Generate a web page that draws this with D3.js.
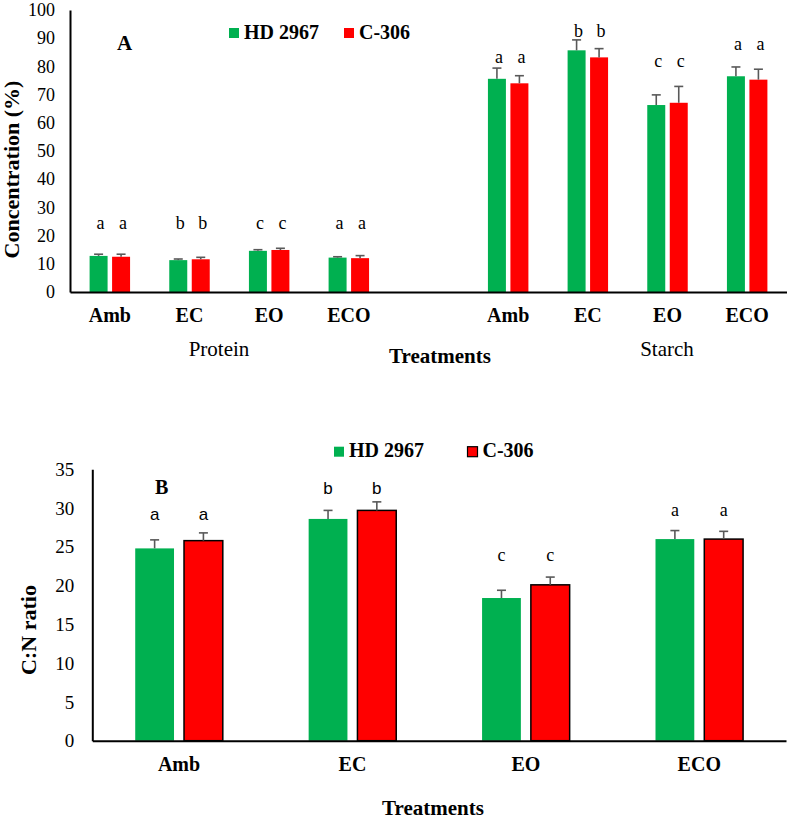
<!DOCTYPE html>
<html><head><meta charset="utf-8">
<script src="https://cdn.jsdelivr.net/npm/d3@7"></script>
</head>
<body style="margin:0">
<svg id="chart" width="787" height="823"></svg>
<script>
// ---------- DATA ----------
const series = ["HD 2967", "C-306"];
const treatments = ["Amb", "EC", "EO", "ECO"];
const components = ["Protein", "Starch"];

// Panel A (Concentration %)
const proteinHD = [12.8, 11.3, 14.6, 12.2];
const proteinC = [12.5, 11.6, 14.9, 12.0];
const proteinHDErr = [0.6, 0.4, 0.4, 0.3];
const proteinCErr = [0.9, 0.7, 0.6, 0.9];
const starchHD = [75.6, 85.7, 66.3, 76.5];
const starchC = [74.0, 83.2, 67.1, 75.3];
const starchHDErr = [3.8, 3.7, 3.6, 3.3];
const starchCErr = [2.7, 3.1, 5.8, 3.7];
const proteinLetters = ["a", "b", "c", "a"];
const starchLetters = ["a", "b", "c", "a"];
const proteinLetterLevel = [22.3, 22.3, 22.3, 22.3];
const starchLetterLevel = [81.2, 90.6, 79.9, 85.8];
const yTicksA = [0, 10, 20, 30, 40, 50, 60, 70, 80, 90, 100];

// Panel B (C:N ratio)
const cnHD = [24.8, 28.6, 18.4, 26.0];
const cnC = [25.8, 29.7, 20.1, 26.0];
const cnHDErr = [1.1, 1.1, 1.0, 1.1];
const cnCErr = [1.0, 1.1, 1.0, 1.0];
const cnLetters = ["a", "b", "c", "a"];
const cnLetterLevel = [28.4, 31.8, 23.2, 29.0];
const yTicksB = [0, 5, 10, 15, 20, 25, 30, 35];

// ---------- STYLE ----------
const SERIF = "Liberation Serif";
const SANS = "Liberation Sans";
const colors = {"HD 2967": "#00B050", "C-306": "#FF0000"};
const errColor = "#595959";
const svg = d3.select("#chart");

function fontify(sel, fam, size, weight) {
  return sel.attr("font-family", fam).style("font-family", fam)
    .attr("font-size", size).style("font-size", size + "px")
    .attr("font-weight", weight || "normal").style("font-weight", weight || "normal");
}

function label(g, x, y, text, size, weight, anchor, transform) {
  const t = g.append("text").text(text).attr("text-anchor", anchor || "start").attr("fill", "#000");
  fontify(t, SERIF, size, weight);
  if (transform) t.attr("transform", transform); else t.attr("x", x).attr("y", y);
  return t;
}

function errorBars(g, rows, xc, y) {
  const eb = g.selectAll("g.err").data(rows).join("g").attr("class", "err")
    .attr("transform", d => `translate(${xc(d)},0)`);
  eb.append("line").attr("x1", 0).attr("x2", 0)
    .attr("y1", d => y(d.v)).attr("y2", d => y(d.v + d.e))
    .attr("stroke", errColor).attr("stroke-width", 1.6);
  eb.append("line").attr("x1", -4.5).attr("x2", 4.5)
    .attr("y1", d => y(d.v + d.e)).attr("y2", d => y(d.v + d.e))
    .attr("stroke", errColor).attr("stroke-width", 1.6);
}

// ================= PANEL A =================
(function(){
  const x0 = 70, x1 = 787, y0 = 292, y1 = 10;
  const slots = [];
  components.forEach((c, ci) => {
    treatments.forEach(t => slots.push(c + "|" + t));
    if (ci === 0) slots.push("gap|");
  });
  const x = d3.scaleBand().domain(slots).range([x0, x1]).padding(0);
  const y = d3.scaleLinear().domain([0, 100]).range([y0, y1]);
  const frac = 0.508;
  const inner = d3.scaleBand().domain(series)
    .range([x.bandwidth() * (1 - frac) / 2, x.bandwidth() * (1 + frac) / 2])
    .paddingInner(0.2);

  const rows = [];
  treatments.forEach((t, i) => {
    rows.push({slot: "Protein|" + t, s: "HD 2967", v: proteinHD[i], e: proteinHDErr[i], l: proteinLetters[i], ly: proteinLetterLevel[i]});
    rows.push({slot: "Protein|" + t, s: "C-306", v: proteinC[i], e: proteinCErr[i], l: proteinLetters[i], ly: proteinLetterLevel[i]});
    rows.push({slot: "Starch|" + t, s: "HD 2967", v: starchHD[i], e: starchHDErr[i], l: starchLetters[i], ly: starchLetterLevel[i]});
    rows.push({slot: "Starch|" + t, s: "C-306", v: starchC[i], e: starchCErr[i], l: starchLetters[i], ly: starchLetterLevel[i]});
  });
  const xc = d => x(d.slot) + inner(d.s) + inner.bandwidth() / 2;

  const g = svg.append("g");
  g.selectAll("rect.bar").data(rows).join("rect").attr("class", "bar")
    .attr("x", d => x(d.slot) + inner(d.s))
    .attr("width", inner.bandwidth())
    .attr("y", d => y(d.v))
    .attr("height", d => y(0) - y(d.v))
    .attr("fill", d => colors[d.s]);

  errorBars(g, rows, xc, y);

  const lt = g.selectAll("text.let").data(rows).join("text").attr("class", "let")
    .attr("x", d => xc(d) + 2)
    .attr("y", d => y(d.ly))
    .attr("text-anchor", "middle")
    .text(d => d.l);
  fontify(lt, SERIF, 18, "normal");

  const ya = d3.axisLeft(y).tickValues(yTicksA).tickSize(0).tickPadding(15);
  const yg = g.append("g").attr("transform", `translate(${x0},0)`).call(ya);
  yg.attr("font-family", null).attr("font-size", null);
  yg.select(".domain").attr("stroke", "#000").attr("stroke-width", 2);
  fontify(yg.selectAll("text"), SERIF, 18, "normal").attr("fill", "#000");

  const xa = d3.axisBottom(x).tickSize(0).tickSizeOuter(0).tickPadding(15.8).tickFormat(d => d.split("|")[1]);
  const xg = g.append("g").attr("transform", `translate(0,${y0})`).call(xa);
  xg.attr("font-family", null).attr("font-size", null);
  xg.select(".domain").attr("stroke", "#000").attr("stroke-width", 2);
  fontify(xg.selectAll("text"), SERIF, 20, "bold").attr("fill", "#000");

  const groupCenters = {Protein: 219, Starch: 667};
  components.forEach(c => label(g, groupCenters[c], 356, c, 21, "normal", "middle"));
  label(g, 440, 363, "Treatments", 21, "bold", "middle");
  label(g, 0, 0, "Concentration (%)", 22, "bold", "middle", "translate(19,169.5) rotate(-90)");
  label(g, 117, 50, "A", 21, "bold");

  const legX = [229, 344];
  series.forEach((s, i) => {
    g.append("rect").attr("x", legX[i]).attr("y", 28).attr("width", 10).attr("height", 10).attr("fill", colors[s]);
    label(g, legX[i] + 15, 38.5, s, 20, "bold");
  });
})();

// ================= PANEL B =================
(function(){
  const x0 = 92.3, x1 = 786, y0 = 740.7, y1 = 469.3;
  const x = d3.scaleBand().domain(treatments).range([x0, x1]).padding(0);
  const y = d3.scaleLinear().domain([0, 35]).range([y0, y1]);
  const frac = 0.505;
  const inner = d3.scaleBand().domain(series)
    .range([x.bandwidth() * (1 - frac) / 2, x.bandwidth() * (1 + frac) / 2])
    .paddingInner(0.205);

  const rows = [];
  treatments.forEach((t, i) => {
    rows.push({t, s: "HD 2967", v: cnHD[i], e: cnHDErr[i], l: cnLetters[i], ly: cnLetterLevel[i]});
    rows.push({t, s: "C-306", v: cnC[i], e: cnCErr[i], l: cnLetters[i], ly: cnLetterLevel[i]});
  });
  const sansGroups = ["Amb", "EC"];
  const xc = d => x(d.t) + inner(d.s) + inner.bandwidth() / 2;

  const g = svg.append("g");
  g.selectAll("rect.bar").data(rows).join("rect").attr("class", "bar")
    .attr("x", d => x(d.t) + inner(d.s))
    .attr("width", inner.bandwidth())
    .attr("y", d => y(d.v))
    .attr("height", d => y(0) - y(d.v))
    .attr("fill", d => colors[d.s])
    .attr("stroke", d => d.s === "C-306" ? "#000" : "none")
    .attr("stroke-width", 1.5);

  errorBars(g, rows, xc, y);

  g.selectAll("text.let").data(rows).join("text").attr("class", "let")
    .attr("x", d => xc(d))
    .attr("y", d => y(d.ly))
    .attr("text-anchor", "middle")
    .each(function(d) {
      const sans = sansGroups.includes(d.t);
      fontify(d3.select(this), sans ? SANS : SERIF, sans ? 17 : 18, "normal");
    })
    .text(d => d.l);

  const ya = d3.axisLeft(y).tickValues(yTicksB).tickSize(0).tickPadding(18);
  const yg = g.append("g").attr("transform", `translate(${x0},0)`).call(ya);
  yg.attr("font-family", null).attr("font-size", null);
  yg.select(".domain").attr("stroke", "#000").attr("stroke-width", 2);
  fontify(yg.selectAll("text"), SERIF, 19, "normal").attr("fill", "#000");

  const xa = d3.axisBottom(x).tickSize(0).tickSizeOuter(0).tickPadding(15.8);
  const xg = g.append("g").attr("transform", `translate(0,${y0})`).call(xa);
  xg.attr("font-family", null).attr("font-size", null);
  xg.select(".domain").attr("stroke", "#000").attr("stroke-width", 2);
  fontify(xg.selectAll("text"), SERIF, 20, "bold").attr("fill", "#000");

  label(g, 433, 815, "Treatments", 21, "bold", "middle");
  label(g, 0, 0, "C:N ratio", 22, "bold", "middle", "translate(36,630) rotate(-90)");
  label(g, 155, 494, "B", 20, "bold");

  const legX = [334, 467.5];
  series.forEach((s, i) => {
    g.append("rect").attr("x", legX[i]).attr("y", 446.7).attr("width", 10).attr("height", 10)
      .attr("fill", colors[s]).attr("stroke", s === "C-306" ? "#000" : "none").attr("stroke-width", 1.2);
    label(g, legX[i] + 15, 457.3, s, 20, "bold");
  });
})();
</script>
</body></html>
